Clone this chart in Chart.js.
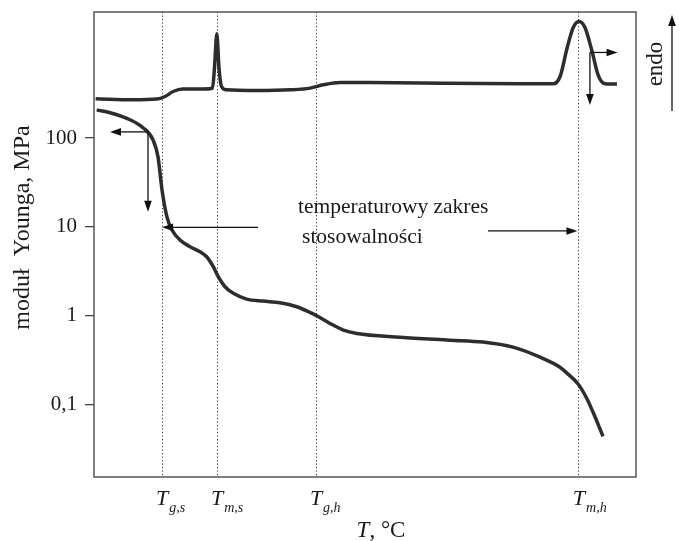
<!DOCTYPE html>
<html>
<head>
<meta charset="utf-8">
<script src="https://cdn.jsdelivr.net/npm/chart.js@4.4.1/dist/chart.umd.min.js"></script>
<style>
html,body{margin:0;padding:0;background:#fff;}
canvas{display:block;}
</style>
</head>
<body>
<canvas id="c" width="679" height="541"></canvas>
<script>
// Characteristic temperatures (x positions, arbitrary T units 0..100)
const tVals = [12.55, 22.7, 40.96, 89.48];
const tSubs = ['g,s', 'm,s', 'g,h', 'm,h'];

// Young's modulus axis ticks
const yTicks = [100, 10, 1, 0.1];
const yTickLabels = ['100', '10', '1', '0,1'];

// Young's modulus curve
const modT = [0.5, 2.95, 6.64, 9.04, 10.89, 11.81, 12.55, 13.47, 14.39, 15.87, 17.71, 19.56, 20.79, 22.01, 22.93, 24.17, 25.70, 28.17, 31.24, 34.32, 37.40, 39.85, 41.09, 43.54, 46.0, 48.47, 56.46, 65.68, 71.77, 77.31, 82.29, 85.98, 87.18, 89.35, 90.90, 92.12, 93.91];
const modE = [208, 193, 161, 131, 95.5, 61.4, 26.1, 12.9, 9.23, 7.12, 5.98, 5.25, 4.61, 3.56, 2.745, 2.118, 1.784, 1.538, 1.460, 1.397, 1.260, 1.089, 0.997, 0.818, 0.688, 0.631, 0.573, 0.530, 0.504, 0.442, 0.341, 0.263, 0.228, 0.1692, 0.1176, 0.0807, 0.0438];

// DSC curve (arbitrary heat-flow units, endo up)
const dscT = [0.3, 7.2, 11.6, 13.1, 14.6, 16.4, 20.1, 21.86, 22.23, 22.66, 23.06, 23.52, 24.35, 30.1, 36.2, 39.9, 42.3, 45.4, 50.9, 78.6, 84.7, 86.0, 87.3, 88.4, 89.5, 90.6, 91.9, 93.0, 94.3, 96.5];
const dscQ = [81.34, 81.12, 81.27, 81.83, 82.90, 83.42, 83.42, 83.6, 88.0, 95.3, 88.0, 84.0, 83.27, 83.12, 83.27, 83.63, 84.34, 84.84, 84.84, 84.56, 84.56, 86.13, 92.31, 96.62, 97.97, 96.62, 91.51, 86.50, 84.56, 84.49];

const SERIF = '"Liberation Serif", "Times New Roman", serif';
const INK = '#1a1a1a';
const CURVE = '#2d2d2d';

function arrow(ctx, x1, y1, x2, y2) {
  const ang = Math.atan2(y2 - y1, x2 - x1), L = 11, W = 3.8;
  ctx.beginPath();
  ctx.moveTo(x1, y1);
  ctx.lineTo(x2 - Math.cos(ang) * L * 0.7, y2 - Math.sin(ang) * L * 0.7);
  ctx.stroke();
  ctx.beginPath();
  ctx.moveTo(x2, y2);
  ctx.lineTo(x2 - L * Math.cos(ang) + W * Math.sin(ang), y2 - L * Math.sin(ang) - W * Math.cos(ang));
  ctx.lineTo(x2 - L * Math.cos(ang) - W * Math.sin(ang), y2 - L * Math.sin(ang) + W * Math.cos(ang));
  ctx.closePath();
  ctx.fill();
}

const annot = {
  id: 'annot',
  afterDatasetsDraw(chart) {
    const { ctx, chartArea: a, scales } = chart;
    const x = scales.x;
    ctx.save();
    // frame
    ctx.strokeStyle = '#555';
    ctx.lineWidth = 1.5;
    ctx.strokeRect(a.left, a.top, a.right - a.left, a.bottom - a.top);

    // arrows (data coordinates)
    const arrows = [
      { s: 'y', x1: 9.96, y1: 117.5, x2: 2.95, y2: 117.5 },
      { s: 'y', x1: 9.96, y1: 117.5, x2: 9.96, y2: 14.85 },
      { s: 'y', x1: 30.26, y1: 9.9, x2: 12.55, y2: 9.9 },
      { s: 'y', x1: 72.7, y1: 9.0, x2: 89.2, y2: 9.0 },
      { s: 'y2', x1: 91.5, y1: 91.3, x2: 96.6, y2: 91.3 },
      { s: 'y2', x1: 91.5, y1: 91.3, x2: 91.5, y2: 80.0 }
    ];
    ctx.strokeStyle = '#111';
    ctx.fillStyle = '#111';
    ctx.lineWidth = 1.3;
    arrows.forEach(r => {
      const ys = scales[r.s];
      arrow(ctx, x.getPixelForValue(r.x1), ys.getPixelForValue(r.y1), x.getPixelForValue(r.x2), ys.getPixelForValue(r.y2));
    });
    // endo arrow (outside plot)
    arrow(ctx, a.right + 36, a.top + 99, a.right + 36, a.top + 3);

    ctx.fillStyle = INK;
    // annotation text
    ctx.font = '21.5px ' + SERIF;
    ctx.textAlign = 'left';
    ctx.textBaseline = 'alphabetic';
    ctx.fillText('temperaturowy zakres', x.getPixelForValue(37.64), scales.y.getPixelForValue(14.36));
    ctx.fillText('stosowalności', x.getPixelForValue(38.38), scales.y.getPixelForValue(6.59));

    // endo label
    ctx.save();
    ctx.font = '23px ' + SERIF;
    ctx.translate(a.right + 26, a.top + 52);
    ctx.rotate(-Math.PI / 2);
    ctx.textAlign = 'center';
    ctx.fillText('endo', 0, 0);
    ctx.restore();

    // x tick labels: T with subscripts
    tVals.forEach((v, i) => {
      const px = x.getPixelForValue(v);
      ctx.font = 'italic 22px ' + SERIF;
      ctx.textAlign = 'center';
      ctx.fillText('T', px, a.bottom + 28);
      const tw = ctx.measureText('T').width;
      ctx.font = 'italic 14px ' + SERIF;
      ctx.textAlign = 'left';
      ctx.fillText(tSubs[i], px + tw / 2 + 1, a.bottom + 35);
    });

    // x axis title
    ctx.font = 'italic 23px ' + SERIF;
    const w1 = ctx.measureText('T').width;
    ctx.font = '23px ' + SERIF;
    const w2 = ctx.measureText(', °C').width;
    let sx = 381 - (w1 + w2) / 2;
    ctx.textAlign = 'left';
    ctx.font = 'italic 23px ' + SERIF;
    ctx.fillText('T', sx, a.bottom + 60);
    ctx.font = '23px ' + SERIF;
    ctx.fillText(', °C', sx + w1, a.bottom + 60);

    // y axis title
    ctx.save();
    ctx.font = '24px ' + SERIF;
    ctx.translate(29, 227.5);
    ctx.rotate(-Math.PI / 2);
    ctx.textAlign = 'center';
    ctx.fillText('moduł  Younga, MPa', 0, 0);
    ctx.restore();

    ctx.restore();
  }
};

new Chart(document.getElementById('c'), {
  type: 'line',
  data: {
    datasets: [
      {
        label: 'moduł Younga',
        data: modT.map((t, i) => ({ x: t, y: modE[i] })),
        yAxisID: 'y',
        borderColor: CURVE,
        borderWidth: 3.5,
        pointRadius: 0,
        cubicInterpolationMode: 'monotone',
        fill: false
      },
      {
        label: 'DSC',
        data: dscT.map((t, i) => ({ x: t, y: dscQ[i] })),
        yAxisID: 'y2',
        borderColor: CURVE,
        borderWidth: 3.5,
        pointRadius: 0,
        cubicInterpolationMode: 'monotone',
        fill: false
      }
    ]
  },
  options: {
    responsive: false,
    animation: false,
    events: [],
    layout: { padding: { left: 0, right: 43, top: 12, bottom: 0 } },
    plugins: { legend: { display: false }, tooltip: { enabled: false } },
    scales: {
      x: {
        type: 'linear',
        min: 0,
        max: 100,
        afterBuildTicks: s => { s.ticks = tVals.map(v => ({ value: v })); },
        afterFit: s => { s.height = 64; s.paddingLeft = 0; s.paddingRight = 0; },
        ticks: { display: false },
        grid: { display: true, drawTicks: false, color: '#333', lineWidth: 1 },
        border: { display: false, dash: [1.2, 2.3] }
      },
      y: {
        type: 'logarithmic',
        position: 'left',
        min: 0.01524,
        max: 2632,
        afterBuildTicks: s => { s.ticks = yTicks.map(v => ({ value: v })); },
        afterFit: s => { s.width = 94; s.paddingTop = 0; s.paddingBottom = 0; },
        ticks: {
          callback: (v, i) => yTickLabels[i],
          font: { family: SERIF, size: 21 },
          color: INK,
          padding: 8,
          autoSkip: false
        },
        grid: { drawOnChartArea: false, drawTicks: true, tickLength: 9, tickColor: '#444', lineWidth: 1.3 },
        border: { display: false }
      },
      y2: {
        type: 'linear',
        display: false,
        min: 0,
        max: 100
      }
    }
  },
  plugins: [annot]
});
</script>
</body>
</html>
